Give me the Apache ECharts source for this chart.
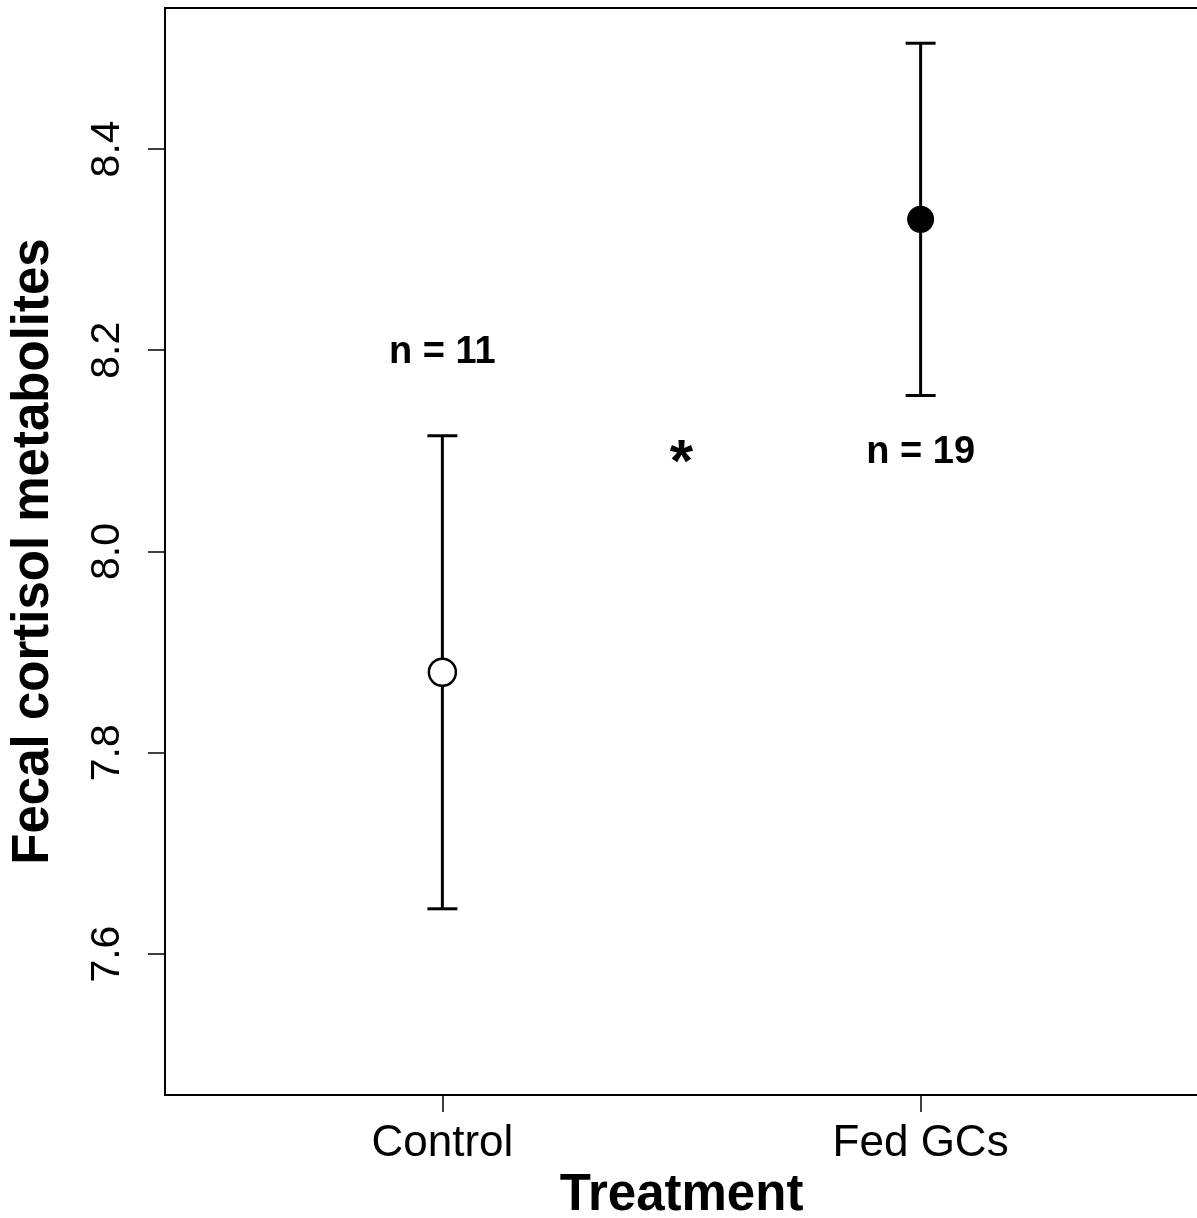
<!DOCTYPE html>
<html>
<head>
<meta charset="utf-8">
<script src="https://cdn.jsdelivr.net/npm/echarts@6/dist/echarts.min.js"></script>
<style>
html,body{margin:0;padding:0;background:#fff;}
#chart{width:1197px;height:1218px;}
</style>
</head>
<body>
<div id="chart"></div>
<script>
// ---- data ----
var categories = ['Control', 'Fed GCs'];
var xPositions = [1, 2];
var means = [7.88, 8.33];
var lowerBounds = [7.645, 8.155];
var upperBounds = [8.115, 8.505];
var yTicks = [7.6, 7.8, 8.0, 8.2, 8.4];
var sampleLabels = ['n = 11', 'n = 19'];
var sampleLabelY = [8.2, 8.1];
var sigLabel = '*';
var sigX = 1.5;
var sigY = 8.1;

var FONT = '"Liberation Sans", Arial, Helvetica, sans-serif';

var chart = echarts.init(document.getElementById('chart'), null, {renderer: 'canvas'});

var errData = xPositions.map(function (x, i) { return [x, lowerBounds[i], upperBounds[i]]; });
var textData = xPositions.map(function (x, i) { return [x, sampleLabelY[i], 0]; });
textData.push([sigX, sigY, 1]);
var textStrings = sampleLabels.concat([sigLabel]);

var option = {
  backgroundColor: '#fff',
  animation: false,
  grid: {
    left: 165, right: -1, top: 8, bottom: 123,
    outerBoundsMode: 'none',
    containLabel: false,
    show: true, borderColor: '#000', borderWidth: 2, backgroundColor: 'transparent'
  },
  xAxis: {
    type: 'value',
    min: 0.42, max: 2.58,
    splitLine: {show: false},
    axisLine: {show: true, onZero: false, lineStyle: {color: '#000', width: 2}},
    axisTick: {show: true, length: 17, lineStyle: {color: '#000', width: 1.5}, customValues: xPositions},
    axisLabel: {
      customValues: xPositions,
      margin: 27,
      color: '#000', fontFamily: FONT, fontSize: 44,
      formatter: function (v) {
        var i = xPositions.indexOf(Math.round(v));
        return i >= 0 ? categories[i] : '';
      }
    },
    name: 'Treatment',
    nameLocation: 'middle',
    nameGap: 74,
    nameTextStyle: {color: '#000', fontFamily: FONT, fontSize: 51, fontWeight: 'bold'}
  },
  yAxis: {
    type: 'value',
    min: 7.46, max: 8.54,
    splitLine: {show: false},
    axisLine: {show: true, onZero: false, lineStyle: {color: '#000', width: 2}},
    axisTick: {show: true, length: 17, lineStyle: {color: '#000', width: 1.5}, customValues: yTicks},
    axisLabel: {
      customValues: yTicks,
      rotate: 90,
      margin: 37,
      color: '#000', fontFamily: FONT, fontSize: 41,
      formatter: function (v) { return v.toFixed(1); }
    },
    name: 'Fecal cortisol metabolites',
    nameLocation: 'middle',
    nameRotate: 90,
    nameGap: 106,
    nameTextStyle: {color: '#000', fontFamily: FONT, fontSize: 51, fontWeight: 'bold'}
  },
  series: [
    {
      type: 'custom',
      name: 'SE',
      data: errData,
      renderItem: function (params, api) {
        var x = api.value(0);
        var lo = api.coord([x, api.value(1)]);
        var hi = api.coord([x, api.value(2)]);
        var hw = 15;
        var style = {stroke: '#000', lineWidth: 3, fill: null};
        return {
          type: 'group',
          children: [
            {type: 'line', shape: {x1: lo[0], y1: lo[1], x2: hi[0], y2: hi[1]}, style: style},
            {type: 'line', shape: {x1: lo[0] - hw, y1: lo[1], x2: lo[0] + hw, y2: lo[1]}, style: style},
            {type: 'line', shape: {x1: hi[0] - hw, y1: hi[1], x2: hi[0] + hw, y2: hi[1]}, style: style}
          ]
        };
      },
      z: 2
    },
    {
      type: 'scatter',
      name: 'Control',
      data: [[xPositions[0], means[0]]],
      symbol: 'circle',
      symbolSize: 27,
      itemStyle: {color: '#fff', borderColor: '#000', borderWidth: 2.5, opacity: 1},
      z: 3
    },
    {
      type: 'scatter',
      name: 'Fed GCs',
      data: [[xPositions[1], means[1]]],
      symbol: 'circle',
      symbolSize: 27,
      itemStyle: {color: '#000', borderColor: '#000', borderWidth: 0, opacity: 1},
      z: 3
    },
    {
      type: 'custom',
      name: 'annotations',
      data: textData,
      silent: true,
      renderItem: function (params, api) {
        var p = api.coord([api.value(0), api.value(1)]);
        var isSig = api.value(2) === 1;
        var fs = isSig ? 60 : 38;
        return {
          type: 'text',
          x: p[0],
          y: p[1] + (isSig ? 14 : 2),
          style: {
            text: textStrings[params.dataIndex],
            fill: '#000',
            font: 'bold ' + fs + 'px ' + FONT,
            align: 'center',
            verticalAlign: 'middle'
          }
        };
      },
      z: 4
    }
  ]
};
chart.setOption(option);
</script>
</body>
</html>
